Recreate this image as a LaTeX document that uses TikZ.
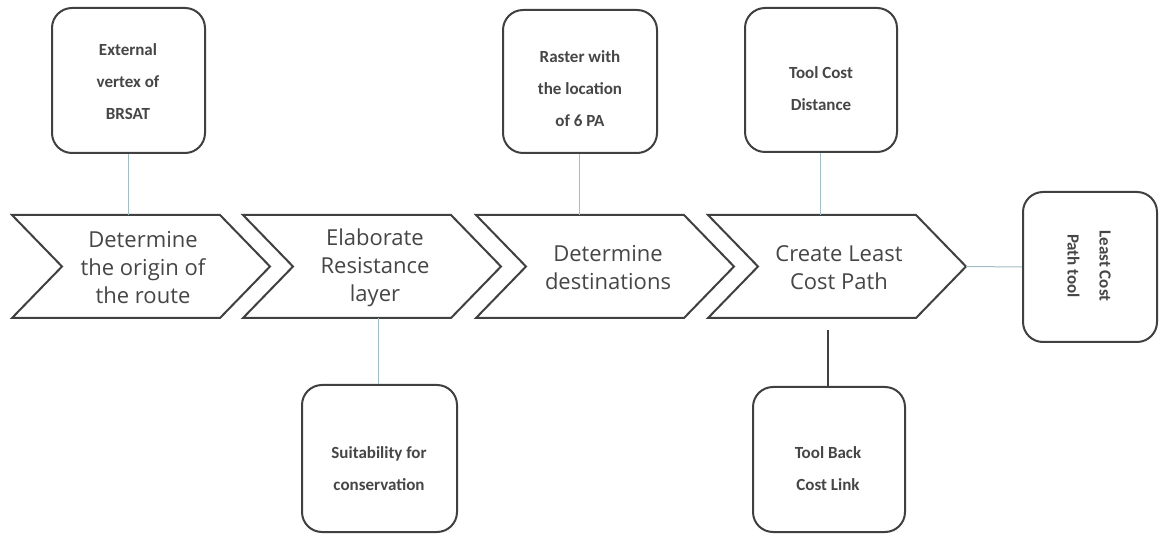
\documentclass[tikz,border=0pt]{standalone}
\usepackage{fontspec}
\setmainfont{Carlito}
\newfontfamily\chevfont{Open Sans}
\definecolor{edgegray}{RGB}{64,64,64}
\definecolor{txtgray}{RGB}{70,70,70}
\definecolor{linkblue}{RGB}{160,190,196}
\tikzset{
  chev/.style={draw=edgegray, line width=2pt, fill=white, line join=miter},
  chevtext/.style={align=center, text=txtgray, font=\chevfont\fontsize{22}{28}\selectfont},
  infobox/.style={draw=edgegray, line width=2pt, rounded corners=20pt, fill=white, inner sep=0pt},
  infotext/.style={align=center, text=txtgray, inner sep=0pt, font=\bfseries\fontsize{17}{32}\selectfont},
  link/.style={draw=linkblue, line width=1pt},
  darklink/.style={draw=edgegray, line width=2.5pt}
}
\begin{document}
\begin{tikzpicture}[x=1pt,y=-1pt]
\useasboundingbox (0,0) rectangle (1159,534);
% chevrons
\foreach \L/\n in {12/1,243/2,476/3,708/4}{
  \draw[chev] (\L,215) -- (\L+208,215) -- (\L+258,266.5) -- (\L+208,318) -- (\L,318) -- (\L+50,266.5) -- cycle;
  \coordinate (c\n tip) at (\L+258,266.5);
}
\node[chevtext] (t1) at (143,268) {Determine\\the origin of\\the route};
\node[chevtext] (t2) at (375,268) {Elaborate\\Resistance\\layer};
\node[chevtext] (t3) at (608,268) {Determine\\destinations};
\node[chevtext] (t4) at (839,268) {Create Least\\Cost Path};
% boxes
\node[infobox, minimum width=153pt, minimum height=145pt] (b1) at (128.5,80.5) {};
\node[infobox, minimum width=154pt, minimum height=143pt] (b3) at (580,81.5) {};
\node[infobox, minimum width=152pt, minimum height=144pt] (b4) at (821,80) {};
\node[infobox, minimum width=155pt, minimum height=147pt] (s2) at (379.5,458.5) {};
\node[infobox, minimum width=152pt, minimum height=145pt] (s4) at (829,459.5) {};
\node[infobox, minimum width=134pt, minimum height=150pt] (r) at (1090,267) {};
\node[infotext] (b1t) at (128,81.5) {External\\vertex of\\BRSAT};
\node[infotext] (b3t) at (580,88.5) {Raster with\\the location\\of 6 PA};
\node[infotext] (b4t) at (821,88.5) {Tool Cost\\Distance};
\node[infotext] (s2t) at (379,468.5) {Suitability for\\conservation};
\node[infotext] (s4t) at (828,468.5) {Tool Back\\Cost Link};
\node[infotext, rotate=-90] (rt) at (1089,266) {Least Cost\\Path tool};
% connectors
\coordinate (c1t) at (128,215);
\coordinate (c3t) at (579,215);
\coordinate (c4t) at (820,215);
\coordinate (c2b) at (378,318);
\coordinate (c4b) at (828,330);
\draw[link] (b1.south -| c1t) -- (c1t);
\draw[link] (b3.south -| c3t) -- (c3t);
\draw[link] (b4.south -| c4t) -- (c4t);
\draw[link] (c2b) -- (s2.north -| c2b);
\draw[darklink] (c4b) -- (s4.north -| c4b);
\draw[link] (c4tip) -- (r.west);
\end{tikzpicture}
\end{document}
